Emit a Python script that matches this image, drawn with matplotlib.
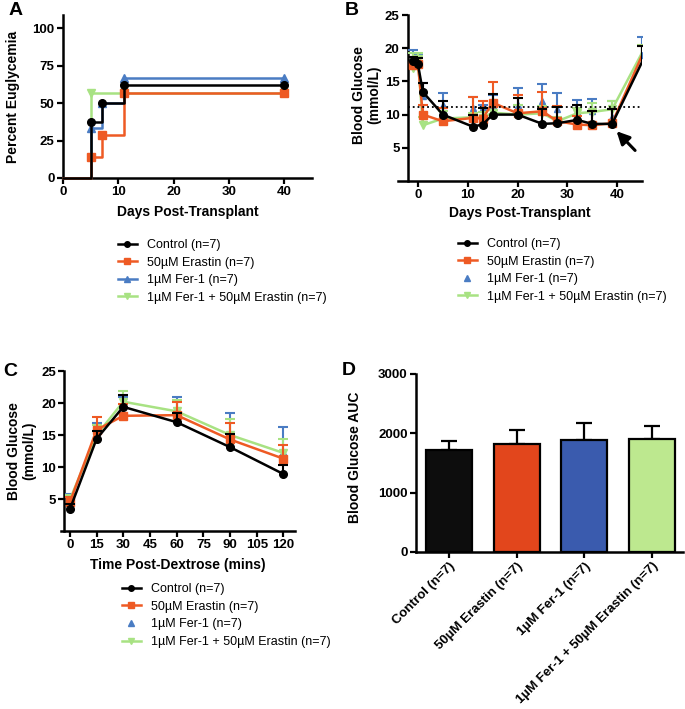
import numpy as np
import matplotlib
matplotlib.use('Agg')
import matplotlib.pyplot as plt
from matplotlib.lines import Line2D

plt.rcParams['font.family'] = ['Liberation Sans', 'DejaVu Sans']
plt.rcParams['axes.linewidth'] = 1.8

# ---- data ----
groups = ['Control (n=7)', '50µM Erastin (n=7)', '1µM Fer-1 (n=7)', '1µM Fer-1 + 50µM Erastin (n=7)']
colors = ['#000000', '#EE5A24', '#4A7CC3', '#A8E283']
bar_colors = ['#0d0d0d', '#E2461C', '#3A5BAE', '#BDE88F']
markers = ['o', 's', '^', 'v']

# A: percent euglycemia (step curves)
surv_days = {
    'ctrl': [0, 5, 7, 11, 40],
    'era': [0, 5, 7, 11, 40],
    'fer': [0, 5, 7, 11, 40],
    'combo': [0, 5, 11, 40],
}
surv_pct = {
    'ctrl': [0, 37.5, 50, 62.5, 62.5],
    'era': [0, 14.3, 28.6, 57.1, 57.1],
    'fer': [0, 33.3, 50, 66.7, 66.7],
    'combo': [0, 57.1, 57.1, 57.1],
}

# B: blood glucose over days
days_b = [-1, 0, 1, 5, 11, 13, 15, 20, 25, 28, 32, 35, 39, 45]
ctrl_b = [18.0, 17.6, 13.4, 10.0, 8.2, 8.5, 10.0, 10.0, 8.6, 8.7, 9.2, 8.6, 8.6, 17.9]
ctrl_b_err = [0.6, 0.9, 1.3, 2.0, 1.8, 2.5, 3.1, 2.5, 2.3, 2.4, 2.2, 2.0, 2.2, 2.4]
era_b = [17.5, 17.6, 10.0, 9.0, 9.5, 9.4, 11.8, 10.2, 10.5, 9.0, 8.5, 8.4, 8.7, 18.9]
era_b_err = [1.1, 0.9, 1.5, 2.0, 3.1, 2.6, 3.1, 2.7, 2.9, 2.3, 1.3, 2.2, 2.2, 1.4]
fer_b = [18.0, 17.8, 12.8, 11.4, 11.0, 11.1, 11.5, 11.4, 12.0, 10.8, 10.6, 10.5, 9.7, 19.0]
fer_b_err = [1.7, 1.4, 2.0, 1.9, 1.6, 0.4, 1.5, 2.6, 2.6, 2.4, 1.6, 1.9, 2.3, 2.7]
combo_b = [17.0, 18.3, 8.4, 9.4, 9.6, 9.5, 10.3, 10.0, 10.2, 9.0, 10.2, 10.4, 10.8, 19.3]
combo_b_err = [2.3, 1.0, 1.2, 1.2, 0.7, 0.9, 0.4, 1.5, 1.1, 0.6, 0.8, 1.3, 1.3, 1.2]
threshold = 11.1

# C: glucose tolerance test
mins_c = [0, 15, 30, 60, 90, 120]
ctrl_c = [3.4, 14.4, 19.4, 17.0, 13.1, 8.9]
ctrl_c_err = [0.8, 1.3, 1.8, 1.4, 2.1, 1.4]
era_c = [4.5, 15.8, 18.0, 18.1, 14.3, 11.3]
era_c_err = [0.8, 2.0, 1.9, 2.1, 2.5, 2.2]
fer_c = [4.8, 15.5, 19.5, 18.5, 14.9, 12.4]
fer_c_err = [1.0, 1.3, 1.5, 2.4, 3.5, 3.8]
combo_c = [4.9, 15.0, 20.2, 18.7, 15.0, 12.2]
combo_c_err = [0.7, 1.5, 1.6, 1.8, 2.5, 2.1]

# D: AUC
auc_mean = [1720, 1823, 1896, 1907]
auc_err = [154, 236, 276, 219]

W, H = 685, 709
fig = plt.figure(figsize=(W / 100, H / 100), dpi=100)


def px_axes(l, t, r, b):
    return fig.add_axes([l / W, 1 - b / H, (r - l) / W, (b - t) / H])


def style(ax):
    ax.spines['top'].set_visible(False)
    ax.spines['right'].set_visible(False)
    ax.tick_params(width=1.6, length=4, labelsize=9.5, pad=2)
    for lab in ax.get_xticklabels() + ax.get_yticklabels():
        lab.set_fontweight('bold')


def up_err(ax, x, y, e, c, z):
    y = np.array(y)
    top = y + np.array(e)
    ax.vlines(x, y, top, color=c, lw=1.5, zorder=z)
    ax.plot(x, top, ls='none', marker='_', ms=7, mew=1.5, color=c, zorder=z)


lab_kw = dict(fontsize=10, fontweight='bold')

# ---------- A ----------
axA = px_axes(63, 15, 312, 178)
order = ['combo', 'fer', 'era', 'ctrl']
idx = {'ctrl': 0, 'era': 1, 'fer': 2, 'combo': 3}
for z, k in enumerate(order):
    i = idx[k]
    d, p = surv_days[k], surv_pct[k]
    axA.step(d, p, where='post', color=colors[i], lw=1.8, zorder=3 + z, clip_on=False)
    axA.plot(d[1:], p[1:], ls='none', marker=markers[i], ms=5.5, color=colors[i], zorder=3 + z)
axA.set_xlim(0, 45)
axA.set_ylim(0, 109)
axA.set_yticks([0, 25, 50, 75, 100])
axA.set_xticks([0, 10, 20, 30, 40])
style(axA)
axA.set_ylabel('Percent Euglycemia', va='center', **lab_kw)
axA.yaxis.set_label_coords(-0.2, 0.5)
axA.set_xlabel('Days Post-Transplant', va='center', **lab_kw)
axA.xaxis.set_label_coords(0.5, -0.21)

# ---------- B ----------
axB = px_axes(398, 15, 642, 181)
series_b = [(ctrl_b, ctrl_b_err), (era_b, era_b_err), (fer_b, fer_b_err), (combo_b, combo_b_err)]
zb = {0: 8, 1: 6, 2: 4, 3: 5}
for i in [2, 3, 1, 0]:
    m, e = series_b[i]
    up_err(axB, days_b, m, e, colors[i], zb[i])
    if i == 2:
        axB.plot(days_b, m, ls='none', marker='^', ms=5, color=colors[i], zorder=zb[i])
    else:
        axB.plot(days_b[:-1], m[:-1], marker=markers[i], ms=5.5, lw=1.8, color=colors[i], zorder=zb[i])
        axB.plot(days_b[-2:], m[-2:], lw=1.8, color=colors[i], zorder=zb[i])
axB.plot([-2, 45], [threshold, threshold], ls=':', color='black', lw=1.3, zorder=9)
axB.annotate('', xy=(39.5, 7.8), xytext=(44.0, 4.3),
             arrowprops=dict(arrowstyle='-|>', lw=2.2, color='black', mutation_scale=19))
axB.set_xlim(-4, 45)
axB.set_ylim(0, 25)
axB.spines['left'].set_position(('data', -2))
axB.set_yticks([5, 10, 15, 20, 25])
axB.set_xticks([0, 10, 20, 30, 40])
style(axB)
axB.set_ylabel('Blood Glucose\n(mmol/L)', va='center', linespacing=1.1, **lab_kw)
axB.yaxis.set_label_coords(-0.13, 0.52)
axB.set_xlabel('Days Post-Transplant', va='center', **lab_kw)
axB.xaxis.set_label_coords(0.5, -0.19)

# ---------- C ----------
axC = px_axes(61, 371, 295, 531)
series_c = [(ctrl_c, ctrl_c_err), (era_c, era_c_err), (fer_c, fer_c_err), (combo_c, combo_c_err)]
for i in [2, 3, 1, 0]:
    m, e = series_c[i]
    up_err(axC, mins_c, m, e, colors[i], zb[i])
    if i == 2:
        axC.plot(mins_c, m, ls='none', marker='^', ms=5, color=colors[i], zorder=zb[i])
    else:
        axC.plot(mins_c, m, marker=markers[i], ms=5.5, lw=1.8, color=colors[i], zorder=zb[i])
axC.set_xlim(-5, 126.5)
axC.set_ylim(0, 25)
axC.spines['left'].set_position(('data', -3.2))
axC.set_yticks([5, 10, 15, 20, 25])
axC.set_xticks([0, 15, 30, 45, 60, 75, 90, 105, 120])
style(axC)
axC.set_ylabel('Blood Glucose\n(mmol/L)', va='center', linespacing=1.1, **lab_kw)
axC.yaxis.set_label_coords(-0.17, 0.5)
axC.set_xlabel('Time Post-Dextrose (mins)', va='center', **lab_kw)
axC.xaxis.set_label_coords(0.5, -0.21)

# ---------- D ----------
axD = px_axes(416, 374, 683, 552)
xpos = np.arange(len(groups))
axD.bar(xpos, auc_mean, width=0.68, color=bar_colors, edgecolor='black', lw=1.6, zorder=3)
axD.errorbar(xpos, auc_mean, yerr=[np.zeros(4), auc_err], fmt='none', ecolor='black',
             elinewidth=1.6, capsize=6, capthick=1.6, zorder=2)
axD.set_xlim(-0.49, 3.46)
axD.set_ylim(0, 3000)
axD.set_yticks([0, 1000, 2000, 3000])
axD.set_xticks(xpos)
axD.set_xticklabels(groups, rotation=45, ha='right', rotation_mode='anchor')
style(axD)
axD.set_ylabel('Blood Glucose AUC', va='center', **lab_kw)
axD.yaxis.set_label_coords(-0.23, 0.53)

# ---------- legends ----------
def handles(tri_line):
    hs = []
    for i in range(4):
        if i == 2 and not tri_line:
            hs.append(Line2D([], [], ls='none', marker='^', ms=4, color=colors[i]))
        else:
            hs.append(Line2D([], [], marker=markers[i], ms=4, lw=1.8, color=colors[i]))
    return hs


leg_kw = dict(frameon=False, fontsize=9, handlelength=1.5, handletextpad=0.8,
              labelspacing=0.45, borderpad=0, borderaxespad=0, loc='upper left')
fig.legend(handles(True), groups, bbox_to_anchor=(118 / W, 1 - 239 / H), **leg_kw)
fig.legend(handles(False), groups, bbox_to_anchor=(458 / W, 1 - 238 / H), **leg_kw)
fig.legend(handles(False), groups, bbox_to_anchor=(122 / W, 1 - 583 / H), **leg_kw)

# panel letters
for lt, x, y in [('A', 9, 2), ('B', 345, 2), ('C', 3, 363), ('D', 342, 362)]:
    fig.text(x / W, 1 - y / H, lt, fontsize=14, fontweight='bold', va='top', ha='left')

fig.savefig('out.png', dpi=100)
